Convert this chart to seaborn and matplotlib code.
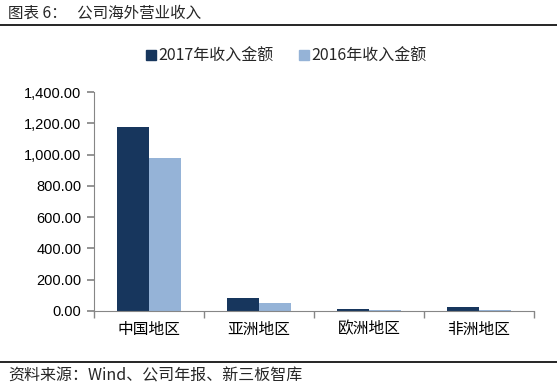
import matplotlib
matplotlib.use("Agg")
import matplotlib.pyplot as plt
import seaborn as sns
import pandas as pd
from matplotlib.ticker import FuncFormatter, FixedLocator
from matplotlib.lines import Line2D

categories = ["中国地区", "亚洲地区", "欧洲地区", "非洲地区"]
series_names = ["2017年收入金额", "2016年收入金额"]
values_2017 = [1176, 83, 10, 24]
values_2016 = [978, 51, 7, 7]
yticks = [0, 200, 400, 600, 800, 1000, 1200, 1400]
title_text = "图表 6：   公司海外营业收入"
source_text = "资料来源：Wind、公司年报、新三板智库"

df = pd.DataFrame({
    "region": categories * 2,
    "series": [series_names[0]] * 4 + [series_names[1]] * 4,
    "value": values_2017 + values_2016,
})

sns.set_theme(style="white")
plt.rcParams["font.family"] = ["Noto Sans CJK SC", "DejaVu Sans"]

colors = ["#17365D", "#95B3D7"]
fig = plt.figure(figsize=(5.57, 3.89), dpi=100)
ax = fig.add_axes([94 / 557, 1 - 311 / 389, 440 / 557, 219 / 389])
sns.barplot(data=df, x="region", y="value", hue="series", palette=colors,
            width=0.58, saturation=1, ax=ax, legend=False, linewidth=0)

ax.set_xlim(-0.5, 3.5)
ax.set_ylim(0, 1400)
ax.set_yticks(yticks)
ax.yaxis.set_major_formatter(FuncFormatter(lambda v, p: f"{v:,.2f}"))
ax.set_xlabel("")
ax.set_ylabel("")
for s in ["top", "right"]:
    ax.spines[s].set_visible(False)
for s in ["left", "bottom"]:
    ax.spines[s].set_color("#868686")
    ax.spines[s].set_linewidth(0.8)
ax.tick_params(axis="y", which="major", left=True, length=5, color="#868686",
               labelsize=10.5, pad=4, labelcolor="black")
ax.tick_params(axis="x", which="major", length=0, labelsize=11.3, pad=7,
               labelcolor="black")
ax.xaxis.set_minor_locator(FixedLocator([-0.5, 0.5, 1.5, 2.5, 3.5]))
ax.tick_params(axis="x", which="minor", bottom=True, length=5, color="#868686")
for lab in ax.get_yticklabels():
    lab.set_fontfamily(["Liberation Sans", "DejaVu Sans"])

handles = [Line2D([], [], marker="s", linestyle="none", markersize=7,
                  markerfacecolor=c, markeredgecolor=c) for c in colors]
fig.legend(handles, series_names, loc="center", bbox_to_anchor=(286 / 557, 1 - 56 / 389),
           ncol=2, frameon=False, fontsize=11.5, handletextpad=0.15,
           columnspacing=1.5, handlelength=0.7)

fig.text(8 / 557, 1 - 13 / 389, title_text, fontsize=11.2, va="center", ha="left")
fig.add_artist(Line2D([0, 1], [1 - 25 / 389, 1 - 25 / 389], color="black", linewidth=1.2))
fig.add_artist(Line2D([0, 1], [1 - 362 / 389, 1 - 362 / 389], color="black", linewidth=1.2))
fig.text(8 / 557, 1 - 376 / 389, source_text, fontsize=11.5, va="center", ha="left")

fig.savefig("out.png", dpi=100)
